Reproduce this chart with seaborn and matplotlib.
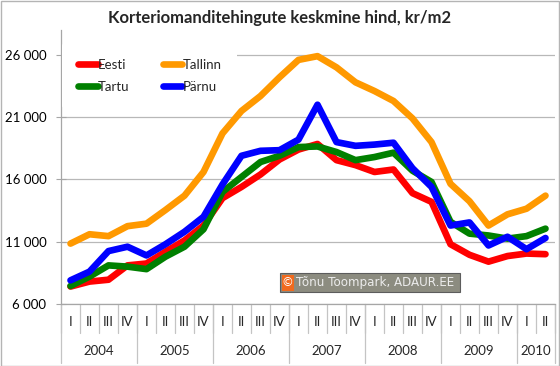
import numpy as np
import pandas as pd
import matplotlib.pyplot as plt
import seaborn as sns
from matplotlib.patches import Rectangle
from matplotlib.transforms import blended_transform_factory

# %%

years = ['2004', '2005', '2006', '2007', '2008', '2009', '2010']
quarter_labels = ['I', 'II', 'III', 'IV'] * 6 + ['I', 'II']
series_names = ['Eesti', 'Tallinn', 'Tartu', 'Pärnu']
colors = ['#ff0000', '#ff9900', '#008000', '#0000ff']

eesti = [7400, 7800, 7950, 9100, 9250, 10200, 11100, 12300, 14500, 15400, 16400, 17600, 18400,
         18850, 17550, 17150, 16600, 16800, 14900, 14200, 10800, 9950, 9400, 9850, 10050, 10000]
tallinn = [10850, 11600, 11450, 12250, 12450, 13550, 14700, 16600, 19700, 21500, 22700, 24200, 25600,
           25900, 25000, 23800, 23100, 22300, 20900, 19000, 15650, 14250, 12300, 13200, 13650, 14700]
tartu = [7450, 8200, 9100, 9000, 8800, 9800, 10600, 12000, 15000, 16200, 17400, 17900, 18600,
         18650, 18200, 17550, 17800, 18150, 16700, 15800, 12600, 11650, 11500, 11250, 11450, 12050]
parnu = [7900, 8600, 10250, 10600, 9900, 10800, 11800, 13000, 15600, 17900, 18300, 18350, 19200,
         22000, 19000, 18700, 18800, 18950, 16900, 15400, 12300, 12550, 10700, 11400, 10400, 11300]

# %%

n = len(quarter_labels)
df = pd.DataFrame({
    'idx': list(range(n)) * 4,
    'hind': eesti + tallinn + tartu + parnu,
    'piirkond': np.repeat(series_names, n),
})

sns.set_style('white')
plt.rcParams['font.family'] = ['Lato', 'DejaVu Sans']

fig = plt.figure(figsize=(5.6, 3.66), dpi=100)
ax = fig.add_axes([61 / 560, 62 / 366, 494 / 560, 274 / 366])

sns.lineplot(data=df, x='idx', y='hind', hue='piirkond', hue_order=series_names,
             palette=colors, linewidth=4.8, legend=False, ax=ax,
             solid_joinstyle='round', solid_capstyle='round')

ax.set_xlim(-0.5, n - 0.5)
ax.set_ylim(6000, 28000)
yt = list(range(6000, 26001, 5000))
ax.set_yticks(yt)
ax.set_yticklabels([f'{v:,}'.replace(',', ' ') for v in yt])
ax.set_xticks([])
ax.set_xlabel('')
ax.set_ylabel('')
ax.yaxis.grid(True, color='#b8b8b8', lw=0.9)
ax.set_axisbelow(True)
for s in ['top', 'right']:
    ax.spines[s].set_visible(False)
for s in ['left', 'bottom']:
    ax.spines[s].set_color('#a6a6a6')
    ax.spines[s].set_linewidth(0.9)
ax.tick_params(axis='y', direction='inout', length=7, color='#a6a6a6', pad=7,
               labelsize=9.5, labelcolor='black', left=True)

# %%
# two level category axis

tr = blended_transform_factory(ax.transData, ax.transAxes)
for i, q in enumerate(quarter_labels):
    ax.text(i, -0.066, q, transform=tr, ha='center', va='center', fontsize=9.5)
for b in np.arange(-0.5, n, 1):
    ax.plot([b, b], [0, -0.106], transform=tr, clip_on=False, color='#c4c4c4', lw=0.9)

year_start = [0, 4, 8, 12, 16, 20, 24]
year_end = [4, 8, 12, 16, 20, 24, 26]
for y, a, e in zip(years, year_start, year_end):
    ax.text((a + e - 1) / 2, -0.172, y, transform=tr, ha='center', va='center', fontsize=9.5)
    ax.plot([a - 0.5, a - 0.5], [0, -0.215], transform=tr, clip_on=False, color='#c4c4c4', lw=0.9)
ax.plot([n - 0.5, n - 0.5], [0, -0.215], transform=tr, clip_on=False, color='#c4c4c4', lw=0.9)

# %%
# legend filled row by row like excel: Eesti, Tallinn / Tartu, Pärnu

order = [0, 2, 1, 3]
leg = ax.legend([ax.lines[i] for i in order], [series_names[i] for i in order], ncol=2,
                loc='upper left', bbox_to_anchor=(0.003, 0.953), fontsize=9.5, frameon=True,
                handlelength=1.5, handletextpad=0.0, columnspacing=2.5,
                labelspacing=0.75, borderpad=1.2, borderaxespad=0)
leg.get_frame().set_facecolor('white')
leg.get_frame().set_edgecolor('none')
leg.get_frame().set_alpha(1)

fig.text(0.5, 1 - 18 / 366, 'Korteriomanditehingute keskmine hind, kr/m2',
         ha='center', va='center', fontsize=12, fontweight='bold')

# watermark
fig.add_artist(Rectangle((280 / 560, 1 - 292 / 366), 180 / 560, 19 / 366, transform=fig.transFigure,
                         fc='#8c8c80', ec='#5c5c5c', lw=0.8))
fig.add_artist(Rectangle((281.5 / 560, 1 - 290.5 / 366), 12 / 560, 16 / 366, transform=fig.transFigure,
                         fc='#f06a1e', ec='none'))
fig.text(287.5 / 560, 1 - 282.5 / 366, '©', color='white', fontsize=8.5, ha='center', va='center',
         family='DejaVu Sans')
fig.text(296 / 560, 1 - 282.5 / 366, 'Tõnu Toompark, ADAUR.EE', color='#ececec', fontsize=8.6,
         ha='left', va='center', family='DejaVu Sans')

fig.add_artist(Rectangle((0.5 / 560, 0.5 / 366), 558 / 560, 364.5 / 366, transform=fig.transFigure,
                         fill=False, ec='#b4b4b4', lw=1))

fig.savefig('out.png', dpi=100)
